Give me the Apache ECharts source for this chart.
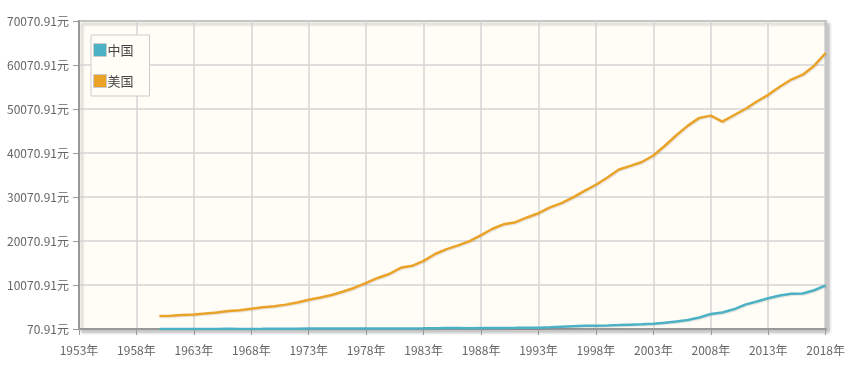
<!DOCTYPE html>
<html><head><meta charset="utf-8">
<script src="https://cdn.jsdelivr.net/npm/echarts@6/dist/echarts.min.js"></script>
<style>html,body{margin:0;padding:0;background:#fff}#c{width:848px;height:370px}</style>
</head><body><div id="c"></div>
<script>
var seriesNames = ['中国', '美国'];
var years = [1960,1961,1962,1963,1964,1965,1966,1967,1968,1969,1970,1971,1972,1973,1974,1975,1976,1977,1978,1979,1980,1981,1982,1983,1984,1985,1986,1987,1988,1989,1990,1991,1992,1993,1994,1995,1996,1997,1998,1999,2000,2001,2002,2003,2004,2005,2006,2007,2008,2009,2010,2011,2012,2013,2014,2015,2016,2017,2018];
var chinaValues = [89.5,75.8,70.91,74.3,85.5,98.5,104.3,96.6,91.5,100.1,113.2,118.7,131.9,157.1,160.1,178.3,165.4,185.4,156.4,184.0,194.8,197.1,203.3,225.4,250.7,294.5,281.9,251.8,283.5,310.9,317.9,333.1,366.5,377.4,473.5,609.7,709.4,781.7,828.6,873.3,959.4,1053.1,1148.5,1288.6,1508.7,1753.4,2099.2,2694.0,3468.3,3832.2,4550.5,5618.1,6316.9,7050.6,7678.6,8066.9,8147.9,8879.4,9976.7];
var usaValues = [3007,3067,3244,3375,3574,3828,4146,4336,4696,5032,5234,5609,6094,6726,7226,7801,8592,9453,10565,11674,12575,13976,14434,15544,17121,18237,19071,20039,21417,22857,23889,24342,25419,26387,27695,28691,29968,31459,32854,34515,36335,37133,38023,39497,41712,44115,46299,48050,48570,47195,48651,50066,51784,53291,55124,56763,57867,59915,62805];
var xMin = 1953, xMax = 2018, xStep = 5;
var yMin = 70.91, yMax = 70070.91, yStep = 10000;

function pairs(vals){ return years.map(function(y,i){ return [y, vals[i]]; }); }
var font = '"Liberation Sans Narrow", "Noto Sans CJK SC", sans-serif';
var chart = echarts.init(document.getElementById('c'), null, {renderer:'canvas'});
chart.setOption({
  animation: false,
  backgroundColor: '#fff',
  color: ['#4bb2c5', '#eaa228'],
  grid: {
    left: 79, right: 20, top: 21, bottom: 41,
    show: true, backgroundColor: '#fffdf6', borderColor: '#999', borderWidth: 2,
    shadowColor: 'rgba(0,0,0,0.2)', shadowBlur: 3, shadowOffsetX: 3, shadowOffsetY: 3
  },
  legend: {
    orient: 'vertical', left: 91, top: 35,
    data: seriesNames,
    icon: 'rect', itemWidth: 13, itemHeight: 13, itemGap: 17,
    padding: [8, 16, 8, 2],
    backgroundColor: '#fffdf6', borderColor: '#ccc', borderWidth: 1,
    itemStyle: { borderColor: '#ccc', borderWidth: 1 },
    textStyle: { fontSize: 13, color: '#444', fontFamily: font, padding: [0,0,0,-4] }
  },
  xAxis: {
    type: 'value', min: xMin, max: xMax, interval: xStep,
    axisLine: { show: true, lineStyle: { color: '#999', width: 2 } },
    axisTick: { show: true, length: 6, lineStyle: { color: '#999', width: 1 } },
    splitLine: { show: true, lineStyle: { color: '#d5d5d5', width: 1.5 } },
    axisLabel: { formatter: function(v){ return v + '年'; }, color: '#666', fontSize: 12, fontFamily: font, margin: 15 }
  },
  yAxis: {
    type: 'value', min: yMin, max: yMax, interval: yStep,
    axisLine: { show: true, lineStyle: { color: '#999', width: 2 } },
    axisTick: { show: true, length: 6, lineStyle: { color: '#999', width: 1 } },
    splitLine: { show: true, lineStyle: { color: '#d5d5d5', width: 1.5 } },
    axisLabel: { formatter: function(v){ return v.toFixed(2) + '元'; }, color: '#666', fontSize: 12, fontFamily: font, margin: 10 }
  },
  series: [
    { name: seriesNames[0], type: 'line', data: pairs(chinaValues), showSymbol: false, symbol: 'none',
      lineStyle: { width: 2.5, shadowColor: 'rgba(0,0,0,0.1)', shadowOffsetX: 1, shadowOffsetY: 1, shadowBlur: 1 } },
    { name: seriesNames[1], type: 'line', data: pairs(usaValues), showSymbol: false, symbol: 'none',
      lineStyle: { width: 2.5, shadowColor: 'rgba(0,0,0,0.1)', shadowOffsetX: 1, shadowOffsetY: 1, shadowBlur: 1 } }
  ]
});
</script></body></html>
